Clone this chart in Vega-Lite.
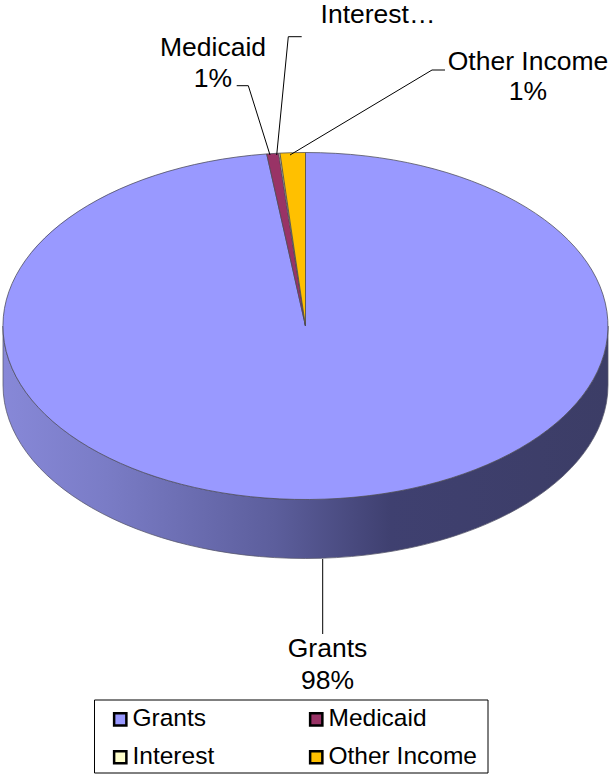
{"$schema":"https://vega.github.io/schema/vega-lite/v6.json","width":611,"height":775,"padding":0,"autosize":"none","background":"white","view":{"stroke":null},"config":{"font":"Liberation Sans"},"data":{"values":[{"category":"Grants","percent":98,"label":"Grants\n98%"},{"category":"Medicaid","percent":1,"label":"Medicaid\n1%"},{"category":"Interest","percent":0.2,"label":"Interest…"},{"category":"Other Income","percent":1,"label":"Other Income\n1%"}]},"resolve":{"scale":{"shape":"independent"}},"layer":[{"transform":[{"filter":"datum.category==='Grants'"}],"mark":{"type":"point","filled":true,"opacity":1,"size":4,"shape":"M-302.5 -61.5A302.5 173.5 0 0 0 302.5 -61.5L302.5 -2.5A302.5 173.5 0 0 1 -302.5 -2.5Z","stroke":"#55556a","strokeWidth":0.75,"fill":{"gradient":"linear","x1":0,"y1":0,"x2":1,"y2":0,"stops":[{"offset":0,"color":"#8788d8"},{"offset":0.17,"color":"#7a7cc6"},{"offset":0.45,"color":"#5c5e9c"},{"offset":0.64,"color":"#3f4070"},{"offset":1,"color":"#3c3d66"}]}},"encoding":{}},{"mark":{"type":"point","filled":true,"opacity":1,"size":4,"stroke":"#4a4a55","strokeWidth":0.75},"encoding":{"fill":{"field":"category","type":"nominal","sort":null,"scale":{"domain":["Grants","Medicaid","Interest","Other Income"],"range":["#9999ff","#993366","#ffffcc","#ffc000"]},"legend":{"title":null,"orient":"none","direction":"horizontal","legendX":108,"legendY":707,"columns":2,"gridAlign":"all","symbolType":"square","symbolSize":150,"symbolOpacity":1,"symbolStrokeColor":"#000000","symbolStrokeWidth":2.5,"labelFont":"Liberation Sans","labelFontSize":24.5,"labelColor":"#000000","labelOffset":0,"labelLimit":300,"columnPadding":23,"rowPadding":13,"padding":0,"encode":{"symbols":{"enter":{"stroke":{"value":"#000000"},"strokeWidth":{"value":2.5}},"update":{"stroke":{"value":"#000000"},"strokeWidth":{"value":2.5}}}}}},"shape":{"field":"category","type":"nominal","legend":null,"scale":{"domain":["Grants","Medicaid","Interest","Other Income"],"range":["M0 -61.5L0 -235A302.5 173.5 0 1 1 -38.8 -233.57Z","M0 -61.5L-38.8 -233.57A302.5 173.5 0 0 1 -26.8 -234.3Z","M0 -61.5L-26.8 -234.3A302.5 173.5 0 0 1 -25.5 -234.38Z","M0 -61.5L-25.5 -234.38A302.5 173.5 0 0 1 0 -235Z"]}}}},{"mark":{"type":"point","filled":false,"opacity":1,"size":4,"stroke":"#000000","strokeWidth":1},"encoding":{"shape":{"field":"category","type":"nominal","legend":null,"scale":{"domain":["Grants","Medicaid","Interest","Other Income"],"range":["M17.2 171.5L17.2 246.5","M-35.5 -232.5L-57.2 -301.8L-68.8 -301.8","M-28.8 -232.5L-17.2 -350.8L-3.8 -350.8","M-15.5 -232.5L126.5 -317.5L139.5 -317.5"]}}}},{"transform":[{"filter":"datum.category==='Grants'"}],"mark":{"type":"point","filled":false,"opacity":1,"size":4,"stroke":"#000000","strokeWidth":1,"shape":"M-211 312.5L182.5 312.5L182.5 385.5L-211 385.5Z"},"encoding":{}},{"transform":[{"filter":"datum.category==='Grants'"}],"mark":{"type":"text","font":"Liberation Sans","fontSize":26.5,"lineBreak":"\n","lineHeight":32,"align":"center","baseline":"alphabetic","dx":22,"dy":269.5,"color":"#000000"},"encoding":{"text":{"field":"label"}}},{"transform":[{"filter":"datum.category==='Medicaid'"}],"mark":{"type":"text","font":"Liberation Sans","fontSize":26.5,"lineBreak":"\n","lineHeight":31,"align":"center","baseline":"alphabetic","dx":-92.5,"dy":-331.5,"color":"#000000"},"encoding":{"text":{"field":"label"}}},{"transform":[{"filter":"datum.category==='Interest'"}],"mark":{"type":"text","font":"Liberation Sans","fontSize":26.5,"lineBreak":"\n","align":"center","baseline":"alphabetic","dx":72.5,"dy":-364.5,"color":"#000000"},"encoding":{"text":{"field":"label"}}},{"transform":[{"filter":"datum.category==='Other Income'"}],"mark":{"type":"text","font":"Liberation Sans","fontSize":26.5,"lineBreak":"\n","lineHeight":30,"align":"center","baseline":"alphabetic","dx":222.5,"dy":-317.5,"color":"#000000"},"encoding":{"text":{"field":"label"}}}]}
